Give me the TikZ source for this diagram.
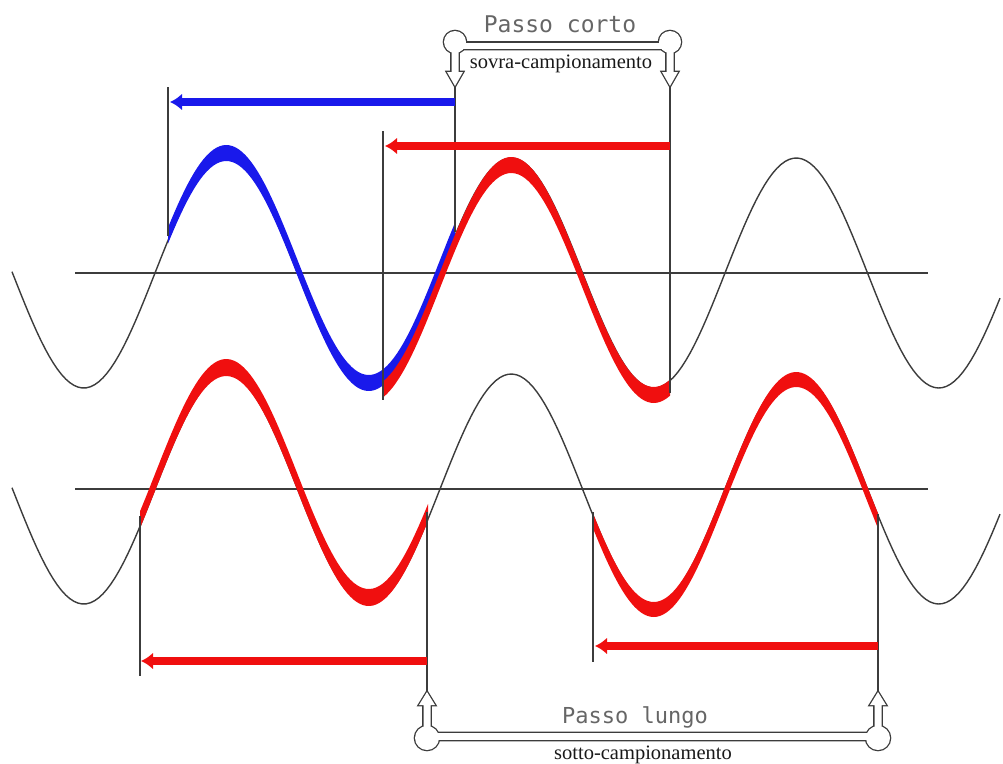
\documentclass[tikz,border=0pt]{standalone}
\usepackage{fontspec}
\setmainfont{Liberation Serif}
\newfontfamily\cadfont{DejaVu Sans Mono}
\usetikzlibrary{arrows.meta}
\definecolor{bandblue}{RGB}{25,25,235}
\definecolor{bandred}{RGB}{240,15,15}
\definecolor{linegray}{RGB}{60,60,60}
\begin{document}
\begin{tikzpicture}[x=1pt,y=-1pt,
  declare function={f(\t)=273-115*sin(((\t-155)/285)*360);},
  wave/.style={linegray, line width=1.4pt},
  axisline/.style={linegray, line width=1.4pt},
  guide/.style={linegray, line width=1.4pt},
  bluearrow/.style={bandblue, line width=8pt, -{Latex[length=12pt,width=17pt]}},
  redarrow/.style={bandred, line width=8pt, -{Latex[length=12pt,width=17pt]}},
  outl/.style={linegray, line width=2.6pt},
  cadtext/.style={font=\cadfont, text=black!60, inner sep=0pt, anchor=base},
  sertext/.style={font=\fontsize{20.5}{24}\selectfont, text=black!90, inner sep=0pt, anchor=base}
]
\useasboundingbox (0,0) rectangle (1003,763);

% axes
\coordinate (a1l) at (75,273); \coordinate (a1r) at (928,273);
\coordinate (a2l) at (75,489); \coordinate (a2r) at (928,489);
\draw[axisline] (a1l) -- (a1r);
\draw[axisline] (a2l) -- (a2r);

% waves
\draw[wave] plot[domain=12:1000,samples=240] (\x,{f(\x)});
\draw[wave] plot[domain=12:1000,samples=240] (\x,{f(\x)+216});

% coloured bands
\fill[bandblue] plot[domain=168:455,samples=90] (\x,{f(\x)-13}) -- plot[domain=455:168,samples=90] (\x,{f(\x)+3}) -- cycle;
\fill[bandred] plot[domain=383:670,samples=90] (\x,{f(\x)-1}) -- plot[domain=670:383,samples=90] (\x,{f(\x)+15}) -- cycle;
\fill[bandred] plot[domain=140:428,samples=90] (\x,{f(\x)+216-15}) -- plot[domain=428:140,samples=90] (\x,{f(\x)+216+2}) -- cycle;
\fill[bandred] plot[domain=593:878,samples=90] (\x,{f(\x)+216-2}) -- plot[domain=878:593,samples=90] (\x,{f(\x)+216+13}) -- cycle;

% vertical guide lines
\coordinate (v1t) at (168,87);  \coordinate (v1b) at (168,236);
\coordinate (v2t) at (455,86);  \coordinate (v2b) at (455,232);
\coordinate (v3t) at (383,131); \coordinate (v3b) at (383,400);
\coordinate (v4t) at (670,86);  \coordinate (v4b) at (670,393);
\coordinate (w1t) at (140,516); \coordinate (w1b) at (140,676);
\coordinate (w2t) at (427,512); \coordinate (w2b) at (427,692);
\coordinate (w3t) at (593,512); \coordinate (w3b) at (593,662);
\coordinate (w4t) at (878,514); \coordinate (w4b) at (878,692);
\foreach \a in {v1,v2,v3,v4,w1,w2,w3,w4} {\draw[guide] (\a t) -- (\a b);}

% thick arrows
\coordinate (ba1) at (455,102); \coordinate (ba2) at (170,102);
\coordinate (ra1) at (670,146); \coordinate (ra2) at (385,146);
\coordinate (rb1) at (427,661); \coordinate (rb2) at (141,661);
\coordinate (rc1) at (878,646); \coordinate (rc2) at (595,646);
\draw[bluearrow] (ba1) -- (ba2);
\draw[redarrow] (ra1) -- (ra2);
\draw[redarrow] (rb1) -- (rb2);
\draw[redarrow] (rc1) -- (rc2);

% top bracket (hollow)
\def\tA{(455,42) circle (11)}
\def\tB{(670,42) circle (11)}
\def\tC{(455,42.5) rectangle (670,49)}
\def\tD{(451.5,50) -- (451.5,72) -- (447,72) -- (455,86) -- (463,72) -- (458.5,72) -- (458.5,50) -- cycle}
\def\tE{(666.5,50) -- (666.5,72) -- (662,72) -- (670,86) -- (678,72) -- (673.5,72) -- (673.5,50) -- cycle}
\draw[outl] \tA \tB \tC \tD \tE;
\fill[white] \tA; \fill[white] \tB; \fill[white] \tC; \fill[white] \tD; \fill[white] \tE;

% bottom bracket (hollow)
\def\bA{(427,738) circle (12)}
\def\bB{(878,738) circle (12)}
\def\bC{(427,733) rectangle (878,740)}
\def\bD{(423.5,728) -- (423.5,705) -- (419,705) -- (427,692) -- (435,705) -- (430.5,705) -- (430.5,728) -- cycle}
\def\bE{(874.5,728) -- (874.5,705) -- (870,705) -- (878,692) -- (886,705) -- (881.5,705) -- (881.5,728) -- cycle}
\draw[outl] \bA \bB \bC \bD \bE;
\fill[white] \bA; \fill[white] \bB; \fill[white] \bC; \fill[white] \bD; \fill[white] \bE;

% labels
\node[cadtext, font=\cadfont\fontsize{23}{26}\selectfont] (pc) at (560,32) {Passo corto};
\node[sertext] (sc) at (561,68) {sovra-campionamento};
\node[cadtext, font=\cadfont\fontsize{22}{25}\selectfont] (pl) at (635,723) {Passo lungo};
\node[sertext] (stc) at (643,759) {sotto-campionamento};
\end{tikzpicture}
\end{document}
